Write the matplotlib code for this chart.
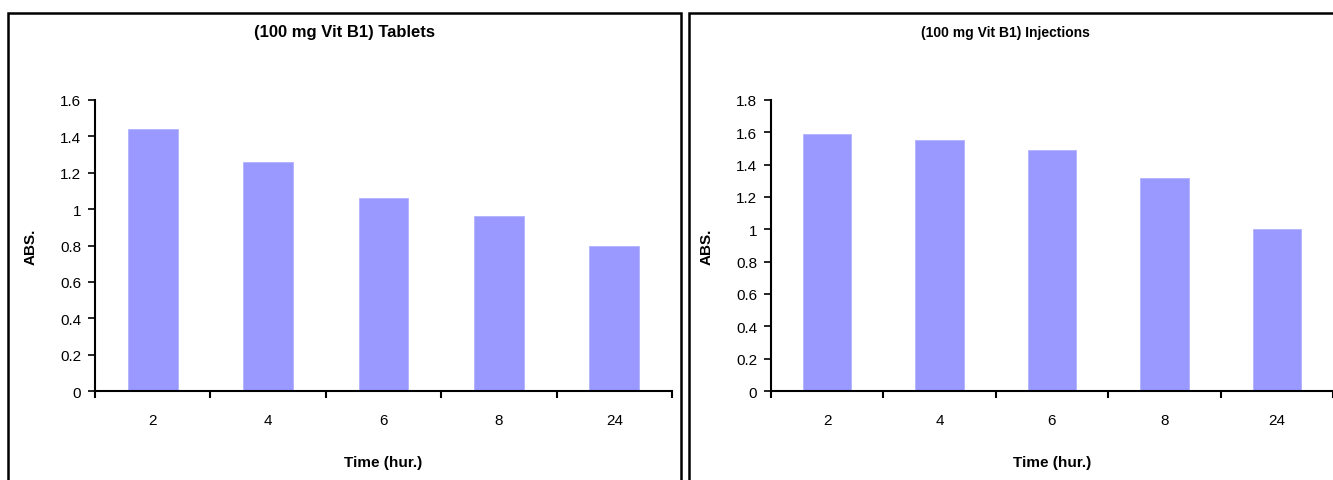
import numpy as np
import matplotlib.pyplot as plt
from matplotlib.patches import Rectangle

times = ['2', '4', '6', '8', '24']
tablets_abs = [1.44, 1.26, 1.06, 0.96, 0.80]
injections_abs = [1.59, 1.55, 1.49, 1.32, 1.00]

bar_color = '#9999FF'
plt.rcParams['font.family'] = ['Liberation Sans', 'DejaVu Sans']

fig = plt.figure(figsize=(13.33, 4.81), dpi=100)

# panel frames (chart-area borders)
W, H = 1333, 481
for x0, x1 in [(8, 681), (689, 1340)]:
    fig.patches.append(Rectangle((x0 / W, -0.05), (x1 - x0) / W, 1.05 - 14 / H,
                                 transform=fig.transFigure, fill=False,
                                 edgecolor='black', linewidth=1.8))


def draw_panel(rect, values, ymax, title, title_size, title_x):
    ax = fig.add_axes(rect)
    x = np.arange(len(values))
    ax.bar(x, values, width=0.43, color=bar_color, edgecolor='#b3b3ff', linewidth=0.6)
    ax.set_xlim(-0.5, len(values) - 0.5)
    ax.set_ylim(0, ymax)
    yt = np.arange(0, ymax + 0.01, 0.2)
    ax.set_yticks(yt)
    ax.set_yticklabels([f'{round(v, 1):g}' for v in yt])
    ax.set_xticks(x)
    ax.set_xticklabels(times)
    ax.set_xticks(np.arange(-0.5, len(values), 1), minor=True)
    ax.tick_params(axis='x', which='major', length=0, pad=16, labelsize=11)
    ax.tick_params(axis='x', which='minor', length=5, width=1.5, direction='out')
    ax.tick_params(axis='y', length=5, width=1.2, direction='out', labelsize=11, pad=5)
    for s in ['top', 'right']:
        ax.spines[s].set_visible(False)
    ax.spines['left'].set_linewidth(1.5)
    ax.spines['bottom'].set_linewidth(1.5)
    ax.set_xlabel('Time (hur.)', fontsize=11, fontweight='bold', labelpad=20)
    ax.set_ylabel('ABS.', fontsize=11, fontweight='bold', labelpad=16)
    fig.text(title_x, 1 - 33 / H, title, ha='center', va='center',
             fontsize=title_size, fontweight='bold')
    return ax


draw_panel([95 / W, 1 - 392 / H, (672 - 95) / W, (392 - 101) / H],
           tablets_abs, 1.6, '(100 mg Vit B1) Tablets', 12, 345 / W)
draw_panel([771 / W, 1 - 392 / H, (1333 - 771) / W, (392 - 101) / H],
           injections_abs, 1.8, '(100 mg Vit B1) Injections', 10, 1005 / W)

fig.savefig('out.png', dpi=100)
